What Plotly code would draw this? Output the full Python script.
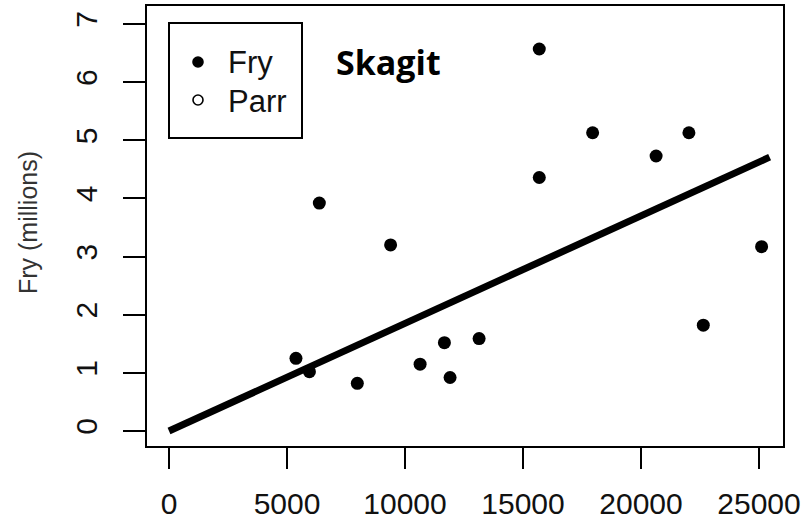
import plotly.graph_objects as go

# Spawners (x) and fry produced (y, millions), Skagit River
spawners = [5380, 5950, 6370, 7980, 9390, 10640, 11670, 11910, 13140,
            15690, 15690, 17950, 20640, 22030, 22640, 25110]
fry_millions = [1.25, 1.02, 3.92, 0.82, 3.20, 1.15, 1.52, 0.92, 1.59,
                6.57, 4.36, 5.13, 4.73, 5.13, 1.82, 3.17]

# Fitted line through the origin
fit_x = [0, 25450]
fit_y = [0, 4.71]

x_ticks = [0, 5000, 10000, 15000, 20000, 25000]
y_ticks = [0, 1, 2, 3, 4, 5, 6, 7]

legend_labels = ["Fry", "Parr"]
legend_filled = [True, False]

FONT = "Liberation Sans, Arial, sans-serif"

# plot area in pixels: left 147, right 783, top 6, bottom 446
L, R, T, B = 147, 783, 6, 446


def px(xp):
    return (xp - L) / (R - L)


def py(yp):
    return (B - yp) / (B - T)


fig = go.Figure()

fig.add_trace(go.Scatter(
    x=fit_x, y=fit_y, mode="lines",
    line=dict(color="black", width=7),
    showlegend=False, hoverinfo="skip",
))

fig.add_trace(go.Scatter(
    x=spawners, y=fry_millions, mode="markers", name="Fry",
    marker=dict(color="black", size=13, symbol="circle"),
    showlegend=False,
))

# Boxed key in the upper-left corner
fig.add_shape(type="rect", xref="paper", yref="paper",
              x0=px(169), x1=px(302), y0=py(138), y1=py(23),
              line=dict(color="black", width=2), fillcolor="white")
for i, (lab, filled) in enumerate(zip(legend_labels, legend_filled)):
    cy = 62 + 38 * i
    fig.add_shape(type="circle", xref="paper", yref="paper",
                  x0=px(193), x1=px(203), y0=py(cy + 5), y1=py(cy - 5),
                  line=dict(color="black", width=1.6),
                  fillcolor="black" if filled else "white")
    fig.add_annotation(x=px(226), y=py(cy + 1), xref="paper", yref="paper",
                       text=lab, showarrow=False,
                       xanchor="left", yanchor="middle",
                       font=dict(family=FONT, size=31, color="#111111"))

fig.add_annotation(
    x=9280, y=6.35, xref="x", yref="y",
    text="<b>Skagit</b>", showarrow=False,
    font=dict(family="Open Sans, sans-serif", size=34, color="black"),
    xanchor="center", yanchor="middle",
)

fig.add_annotation(
    x=px(28), y=py(223), xref="paper", yref="paper",
    text="Fry (millions)", showarrow=False, textangle=-90,
    font=dict(family=FONT, size=25, color="#333333"),
    xanchor="center", yanchor="middle",
)

fig.update_layout(
    width=805, height=522,
    margin=dict(l=L, r=805 - R, t=T, b=522 - B, autoexpand=False),
    paper_bgcolor="white", plot_bgcolor="white",
    font=dict(family=FONT, color="#111111"),
    showlegend=False,
    xaxis=dict(
        range=[-932, 26017], tickvals=x_ticks,
        ticktext=[str(v) for v in x_ticks],
        showgrid=False, zeroline=False,
        showline=True, linecolor="black", linewidth=2, mirror=True,
        ticks="outside", ticklen=21, tickwidth=2, tickcolor="black",
        tickfont=dict(size=30, family=FONT, color="#111111"),
        ticklabelstandoff=9,
    ),
    yaxis=dict(
        range=[-0.258, 7.31], tickvals=y_ticks,
        ticktext=[str(v) for v in y_ticks],
        showgrid=False, zeroline=False,
        showline=True, linecolor="black", linewidth=2, mirror=True,
        ticks="outside", ticklen=22, tickwidth=2, tickcolor="black",
        tickfont=dict(size=30, family=FONT, color="#111111"),
        tickangle=-90, ticklabelstandoff=14,
    ),
)

fig.write_html("out.html")
